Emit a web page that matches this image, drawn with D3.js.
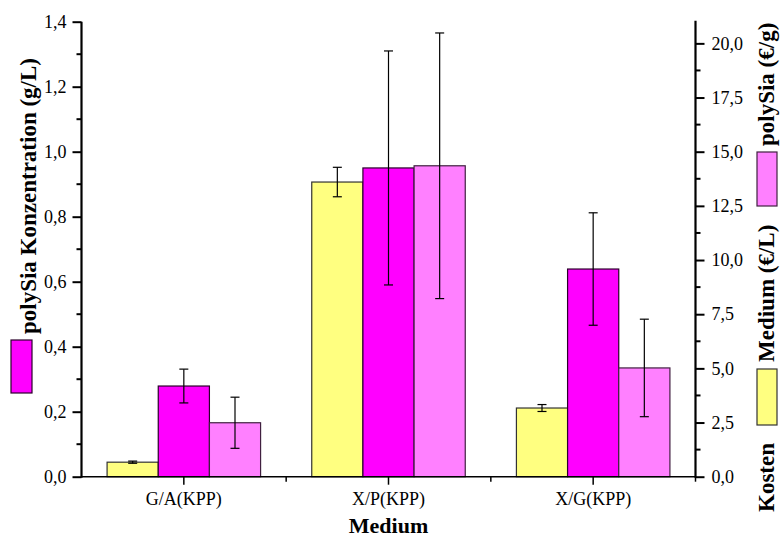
<!DOCTYPE html>
<html><head><meta charset="utf-8">
<script src="https://cdn.jsdelivr.net/npm/d3@7"></script>
<style>
body{margin:0;background:#fff;}
svg{display:block;}
</style></head>
<body>
<svg id="c" width="781" height="540"></svg>
<script>
const categories = ["G/A(KPP)", "X/P(KPP)", "X/G(KPP)"];
const kostenMedium = [0.67, 13.6, 3.17];
const kostenMediumErr = [0.05, 0.68, 0.16];
const polySiaConc = [0.279, 0.950, 0.639];
const polySiaConcErr = [0.052, 0.36, 0.173];
const polySiaCost = [2.49, 14.35, 5.02];
const polySiaCostErr = [1.18, 6.13, 2.25];
const leftTicks = [0, 0.2, 0.4, 0.6, 0.8, 1.0, 1.2, 1.4];
const rightTicks = [0, 2.5, 5, 7.5, 10, 12.5, 15, 17.5, 20];

const FONT = "'Liberation Serif', 'Times New Roman', serif";
const svg = d3.select("#c");
const L = 81.5, R = 695.5, T = 21.7, B = 476.7;
const x = d3.scaleBand().domain(categories).range([L, R]).paddingInner(0).paddingOuter(0);
const inner = d3.scaleBand().domain([0,1,2]).range([0, x.bandwidth()*0.75]);
const yL = d3.scaleLinear().domain([0, 1.4]).range([B, T]);
const yR = d3.scaleLinear().domain([0, 21.0]).range([B, T]);
const fmt1 = v => d3.format(".1f")(v).replace(".", ",");

const series = [
  {vals: kostenMedium, err: kostenMediumErr, y: yR, fill: "#FFFF80", stroke: "#333"},
  {vals: polySiaConc, err: polySiaConcErr, y: yL, fill: "#FF00FF", stroke: "#2a002a"},
  {vals: polySiaCost, err: polySiaCostErr, y: yR, fill: "#FF80FF", stroke: "#402040"}
];
const off = (x.bandwidth() - x.bandwidth()*0.75)/2;
series.forEach((s, si) => {
  const g = svg.append("g");
  categories.forEach((c, ci) => {
    const x0 = x(c) + off + inner(si);
    g.append("rect").attr("x", x0).attr("y", s.y(s.vals[ci]))
      .attr("width", inner.bandwidth()).attr("height", B - s.y(s.vals[ci]))
      .attr("fill", s.fill).attr("stroke", s.stroke).attr("stroke-width", 1.2);
  });
});
series.forEach((s, si) => {
  categories.forEach((c, ci) => {
    const cx = x(c) + off + inner(si) + inner.bandwidth()/2;
    const hi = s.y(s.vals[ci] + s.err[ci]), lo = s.y(s.vals[ci] - s.err[ci]);
    const g = svg.append("g").attr("stroke", "#000").attr("stroke-width", 1.2);
    g.append("line").attr("x1", cx).attr("x2", cx).attr("y1", hi).attr("y2", lo);
    g.append("line").attr("x1", cx-4.5).attr("x2", cx+4.5).attr("y1", hi).attr("y2", hi);
    g.append("line").attr("x1", cx-4.5).attr("x2", cx+4.5).attr("y1", lo).attr("y2", lo);
  });
});

// Left axis
const minorL = d3.range(0.1, 1.4, 0.2);
const axL = svg.append("g").attr("transform", `translate(${L},0)`);
axL.call(d3.axisLeft(yL).tickValues(leftTicks).tickFormat(fmt1).tickSize(9).tickPadding(6));
axL.attr("font-family", null);
axL.selectAll(".tick text").attr("font-size", 18).attr("fill", "#000").style("font-family", FONT);
axL.selectAll("line").attr("stroke-width", 2);
axL.select(".domain").attr("stroke-width", 2.2).attr("d", `M0,${B+1}V${T}`);
minorL.forEach(v => axL.append("line").attr("x1", -5).attr("x2", 0).attr("y1", yL(v)).attr("y2", yL(v)).attr("stroke", "#000").attr("stroke-width", 2));

// Right axis
const minorR = d3.range(1.25, 21, 2.5);
const axR = svg.append("g").attr("transform", `translate(${R},0)`);
axR.call(d3.axisRight(yR).tickValues(rightTicks).tickFormat(fmt1).tickSize(9).tickPadding(7));
axR.attr("font-family", null);
axR.selectAll(".tick text").attr("font-size", 18).attr("fill", "#000").style("font-family", FONT);
axR.selectAll("line").attr("stroke-width", 2);
axR.select(".domain").attr("stroke-width", 2.2).attr("d", `M0,${B+1}V${T-1}`);
minorR.forEach(v => axR.append("line").attr("x1", 0).attr("x2", 5).attr("y1", yR(v)).attr("y2", yR(v)).attr("stroke", "#000").attr("stroke-width", 2));

// Bottom axis
const axB = svg.append("g").attr("transform", `translate(0,${B})`);
axB.call(d3.axisBottom(x).tickSize(8).tickPadding(8));
axB.attr("font-family", null);
axB.selectAll(".tick text").attr("font-size", 18).attr("fill", "#000").style("font-family", FONT);
axB.selectAll("line").attr("stroke-width", 1.5);
axB.select(".domain").attr("stroke-width", 1.5).attr("d", `M${L},0H${R}`);
[x(categories[1]), x(categories[2]), R].forEach(v => axB.append("line").attr("x1", v).attr("x2", v).attr("y1", 0).attr("y2", 5).attr("stroke", "#000").attr("stroke-width", 1.5));

// Titles
function title(t, tr, size) {
  return svg.append("text").attr("transform", tr).attr("font-size", size)
    .attr("font-weight", "bold").style("font-family", FONT).text(t);
}
title("Medium", `translate(${(L+R)/2},533)`, 22).attr("text-anchor", "middle");
title("polySia Konzentration (g/L)", "translate(36,334) rotate(-90)", 23);
svg.append("rect").attr("x", 11).attr("y", 340).attr("width", 21).attr("height", 53)
  .attr("fill", "#FF00FF").attr("stroke", "#2a002a").attr("stroke-width", 1.2);

const rx = 774;
title("Kosten", `translate(${rx},512) rotate(-90)`, 23);
svg.append("rect").attr("x", 757).attr("y", 369).attr("width", 20).attr("height", 56)
  .attr("fill", "#FFFF80").attr("stroke", "#333").attr("stroke-width", 1.2);
title("Medium (€/L)", `translate(${rx},362) rotate(-90)`, 23);
svg.append("rect").attr("x", 757).attr("y", 152).attr("width", 20).attr("height", 54)
  .attr("fill", "#FF80FF").attr("stroke", "#402040").attr("stroke-width", 1.2);
title("polySia (€/g)", `translate(${rx},146) rotate(-90)`, 23);
</script>
</body></html>
